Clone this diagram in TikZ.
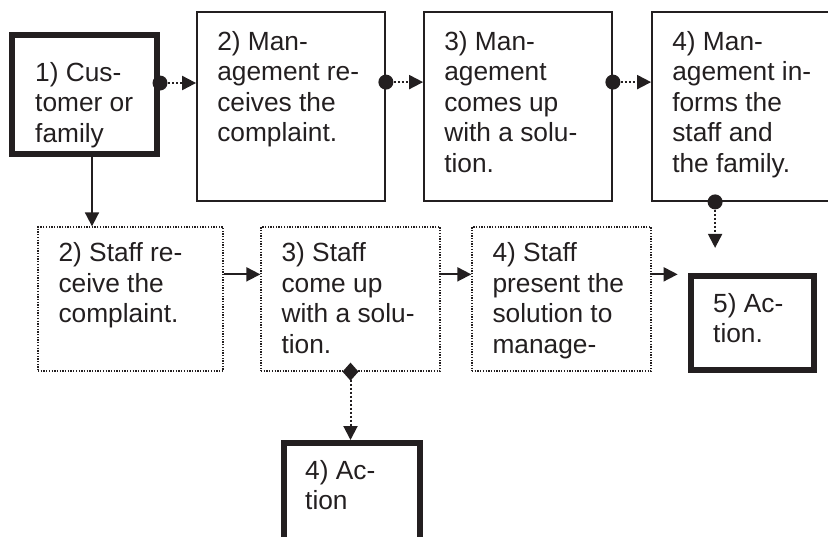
\documentclass[tikz,border=0pt]{standalone}
\usepackage{fontspec}
\setmainfont{Liberation Sans}
\usetikzlibrary{arrows.meta,calc}
\definecolor{ink}{HTML}{231F20}
\begin{document}
\begin{tikzpicture}[x=1pt,y=-1pt,
  % management boxes: thin solid frame
  mbox/.style={draw=ink, inner sep=0pt, line width=1.8pt,
    minimum width=188pt, minimum height=189pt},
  % staff boxes: fine dotted frame
  sbox/.style={draw=ink, inner sep=0pt, line width=1.3pt,
    dash pattern=on 1.3pt off 1.4pt, minimum height=144pt},
  % start and action boxes: heavy frame
  hbox/.style={draw=ink, inner sep=0pt, line width=6pt},
  lbl/.style={anchor=north west, inner sep=0pt, align=left, text=ink,
    font=\fontsize{26.3pt}{30.5pt}\selectfont},
  tip/.style={-{Triangle[length=14pt,width=14pt]}},
  solidconn/.style={draw=ink, line width=1.8pt, tip},
  dotconn/.style={draw=ink, line width=2pt, dash pattern=on 2pt off 2pt, tip},
  dotmark/.style={fill=ink}
]
\useasboundingbox (0,0) rectangle (828,536);
\clip (0,0) rectangle (828,536);

% boxes
\node[hbox, minimum width=145pt, minimum height=119pt] (b1) at (84.5,94.5) {};
\node[mbox] (m2) at (291,106.5) {};
\node[mbox] (m3) at (518,106.5) {};
\node[mbox] (m4) at (746,106.5) {};
\node[sbox, minimum width=185pt] (s2) at (130.5,299) {};
\node[sbox, minimum width=179pt] (s3) at (350.5,299) {};
\node[sbox, minimum width=179pt] (s4) at (561.5,299) {};
\node[hbox, minimum width=123pt, minimum height=94pt] (b5) at (752.5,323) {};
\node[hbox, minimum width=136pt, minimum height=117pt] (a4) at (352,501.5) {};

% texts
\node[lbl] (t1) at ([shift={(26pt,-30pt)}]b1.north west) {1) Cus-\\tomer or\\family};
\node[lbl] (t2) at ([shift={(21pt,-20pt)}]m2.north west) {2) Man-\\agement re-\\ceives the\\complaint.};
\node[lbl] (t3) at ([shift={(21pt,-20pt)}]m3.north west) {3) Man-\\agement\\comes up\\with a solu-\\tion.};
\node[lbl] (t4) at ([shift={(21pt,-20pt)}]m4.north west) {4) Man-\\agement in-\\forms the\\staff and\\the family.};
\node[lbl] (u2) at ([shift={(21pt,-16pt)}]s2.north west) {2) Staff re-\\ceive the\\complaint.};
\node[lbl] (u3) at ([shift={(21pt,-16pt)}]s3.north west) {3) Staff\\come up\\with a solu-\\tion.};
\node[lbl] (u4) at ([shift={(21pt,-16pt)}]s4.north west) {4) Staff\\present the\\solution to\\manage-};
\node[lbl] (t5) at ([shift={(25pt,-20pt)}]b5.north west) {5) Ac-\\tion.};
\node[lbl] (ta) at ([shift={(24pt,-20pt)}]a4.north west) {4) Ac-\\tion};

% management chain: dotted links starting from a dot
\coordinate (p1) at ([yshift=-51pt]b1.north east);
\coordinate (p2) at ([yshift=-71pt]m2.north east);
\coordinate (p3) at ([yshift=-71pt]m3.north east);
\draw[dotconn] (p1) -- (p1 -| m2.west);
\draw[dotconn] (p2) -- (p2 -| m3.west);
\draw[dotconn] (p3) -- (p3 -| m4.west);
\fill[dotmark] (p1) circle[radius=7.5pt];
\fill[dotmark] (p2) circle[radius=7.5pt];
\fill[dotmark] (p3) circle[radius=7.5pt];

% management informs: dotted drop from the last box
\coordinate (p4) at ([xshift=64pt]m4.south west);
\coordinate (e4) at ($(p4)+(0,46)$);
\draw[dotconn] (p4) -- (e4);
\fill[dotmark] (p4) circle[radius=7.5pt];

% staff chain: solid links
\coordinate (q0) at ([xshift=7.5pt]b1.south);
\draw[solidconn] (q0) -- (q0 |- s2.north);
\coordinate (q1) at ([yshift=-48pt]s2.north east);
\coordinate (q2) at ([yshift=-48pt]s3.north east);
\coordinate (q3) at ([yshift=-48pt]s4.north east);
\draw[solidconn] (q1) -- (q1 -| s3.west);
\draw[solidconn] (q2) -- (q2 -| s4.west);
\coordinate (e5) at ($(q3)+(26,0)$);
\draw[solidconn] (q3) -- (e5);

% staff action: dotted drop from a diamond
\draw[dotconn] (s3.south) -- (s3.south |- a4.north);
\fill[dotmark] (s3.south) ++(0,-9) -- ++(8,9) -- ++(-8,9) -- ++(-8,-9) -- cycle;
\end{tikzpicture}
\end{document}
